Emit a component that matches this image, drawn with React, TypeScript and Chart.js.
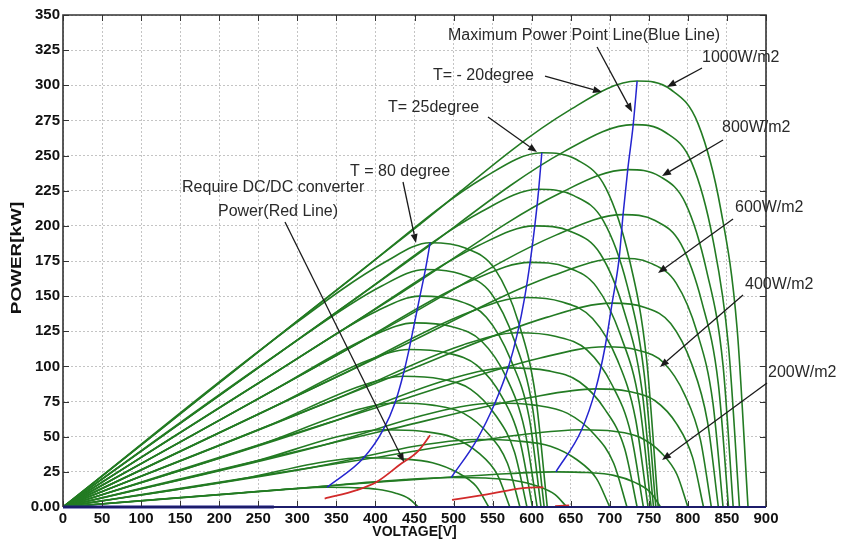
import React, { useEffect, useRef } from 'react';
import { Chart, registerables } from 'chart.js';
Chart.register(...registerables);

type Pt = [number, number];

// Axis ranges / ticks
const X_MIN = 0, X_MAX = 900, X_STEP = 50;
const Y_MIN = 0, Y_MAX = 350, Y_STEP = 25;

const IRRADIANCE = [100, 200, 300, 400, 500, 600, 700, 800, 900, 1000];

// P-V curves at T = -20 degree (index 0 = 100 W/m2 ... index 9 = 1000 W/m2), [V, kW]
const PV_TM20: Pt[][] = [
  [[0,0],[379,16.7],[555,23.3],[631,25],[671,24.5],[705,22.5],[732,17.5],[752,10.5],[765,0]],
  [[0,0],[398,35],[584,51.2],[664,55],[705,53.9],[739,49.5],[766,38.5],[786,23.1],[800,0]],
  [[0,0],[409,54],[600,78.1],[682,84],[723,82.3],[758,75.6],[786,58.8],[806,35.3],[820,0]],
  [[0,0],[416,73.2],[611,106],[694,114],[735,111.7],[769,102.6],[796,79.8],[816,47.9],[830,0]],
  [[0,0],[422,92.8],[619,134.9],[703,145],[744,142.1],[778,130.5],[805,101.5],[825,60.9],[839,0]],
  [[0,0],[427,112.7],[627,164.6],[712,177],[752,173.5],[785,159.3],[812,123.9],[832,74.3],[845,0]],
  [[0,0],[430,132.4],[631,193.4],[717,208],[758,203.8],[791,187.2],[818,145.6],[839,87.4],[852,0]],
  [[0,0],[434,152.8],[636,223.2],[723,240],[764,235.2],[797,216],[824,168],[845,100.8],[858,0]],
  [[0,0],[438,173.4],[642,253],[730,272],[771,266.6],[805,244.8],[832,190.4],[852,114.2],[866,0]],
  [[0,0],[441,194],[647,281.8],[735,303],[778,297],[813,272.7],[842,212],[863,127],[877,0]],
];

// P-V curves at T = 25 degree
const PV_T25: Pt[][] = [
  [[0,0],[298,13.1],[437,19.5],[497,21],[541,20.6],[578,18.9],[608,14.7],[630,8.8],[645,0]],
  [[0,0],[318,28],[466,44.6],[530,48],[581,47],[624,43.2],[658,33.6],[683,20.2],[700,0]],
  [[0,0],[332,43.8],[487,68.8],[553,74],[604,72.5],[646,66.6],[680,51.8],[705,31.1],[722,0]],
  [[0,0],[342,60.2],[502,92.1],[570,99],[620,97],[661,89.1],[694,69.3],[719,41.6],[735,0]],
  [[0,0],[349,76.8],[512,115.3],[582,124],[630,121.5],[671,111.6],[703,86.8],[727,52.1],[743,0]],
  [[0,0],[355,93.7],[520,138.6],[591,149],[638,146],[678,134.1],[710,104.3],[733,62.6],[749,0]],
  [[0,0],[359,110.6],[526,161.8],[598,174],[645,170.5],[683,156.6],[714,121.8],[738,73.1],[753,0]],
  [[0,0],[362,127.4],[532,186],[604,200],[650,196],[688,180],[718,140],[741,84],[756,0]],
  [[0,0],[365,144.5],[536,210.2],[609,226],[654,221.5],[692,203.4],[722,158.2],[744,94.9],[759,0]],
  [[0,0],[368,161.9],[539,234.4],[613,252],[658,247],[695,226.8],[725,176.4],[747,105.8],[762,0]],
];

// P-V curves at T = 80 degree
const PV_T80: Pt[][] = [
  [[0,0],[203,8.9],[297,13],[338,14],[373,13.7],[402,12.6],[426,9.8],[443,5.9],[455,0]],
  [[0,0],[231,20.3],[339,32.6],[385,35],[433,34.3],[473,31.5],[505,24.5],[529,14.7],[545,0]],
  [[0,0],[246,32.5],[361,51.2],[410,55],[459,53.9],[499,49.5],[532,38.5],[556,23.1],[572,0]],
  [[0,0],[255,44.9],[374,68.8],[425,74],[473,72.5],[513,66.6],[545,51.8],[569,31.1],[585,0]],
  [[0,0],[261,57.4],[383,86.5],[435,93],[483,91.1],[522,83.7],[554,65.1],[578,39.1],[594,0]],
  [[0,0],[266,70.2],[390,104.2],[443,112],[490,109.8],[530,100.8],[562,78.4],[585,47],[601,0]],
  [[0,0],[270,83.2],[396,121.8],[450,131],[497,128.4],[536,117.9],[568,91.7],[591,55],[607,0]],
  [[0,0],[274,96.4],[402,139.5],[457,150],[504,147],[542,135],[573,105],[597,63],[612,0]],
  [[0,0],[278,110.1],[408,157.2],[464,169],[510,165.6],[548,152.1],[578,118.3],[601,71],[616,0]],
  [[0,0],[282,124.1],[414,174.8],[470,188],[515,184.2],[553,169.2],[583,131.6],[605,79],[620,0]],
];

// Maximum power point lines (blue)
const MPP_TM20: Pt[] = [[631,25],[664,55],[682,84],[694,114],[703,145],[712,177],[717,208],[723,240],[730,272],[735,303]];
const MPP_T25: Pt[] = [[497,21],[530,48],[553,74],[570,99],[582,124],[591,149],[598,174],[604,200],[609,226],[613,252]];
const MPP_T80: Pt[] = [[338,14],[385,35],[410,55],[425,74],[435,93],[443,112],[450,131],[457,150],[464,169],[470,188]];

// Required DC/DC converter power (red)
const DCDC_1: Pt[] = [[335,6],[376,12],[402,18],[431,30],[455,40],[470,51]];
const DCDC_2: Pt[] = [[498,5],[543,9],[589,13.5],[615,14]];
const DCDC_3: Pt[] = [[630,0.6],[648,1.2]];

// dark line lying on the voltage axis
const ZERO_LINE: Pt[] = [[0,0],[270,0]];

const X_TITLE = 'VOLTAGE[V]';
const Y_TITLE = 'POWER[kW]';

// Annotation texts (data coordinates: V, kW) and arrows
const TEXTS: { t: string; v: number; p: number }[] = [
  { t: 'Maximum Power Point Line(Blue Line)', v: 492.9, p: 335.0 },
  { t: '1000W/m2', v: 818.1, p: 319.4 },
  { t: 'T= - 20degree', v: 473.7, p: 306.6 },
  { t: 'T= 25degree', v: 416.1, p: 283.8 },
  { t: 'T = 80 degree', v: 367.4, p: 238.3 },
  { t: 'Require DC/DC converter', v: 152.4, p: 226.9 },
  { t: 'Power(Red Line)', v: 198.4, p: 209.9 },
  { t: '800W/m2', v: 843.7, p: 269.6 },
  { t: '600W/m2', v: 860.3, p: 212.7 },
  { t: '400W/m2', v: 873.1, p: 157.9 },
  { t: '200W/m2', v: 902.6, p: 95.3 },
];
const ARROWS: [number, number, number, number][] = [
  [683.7, 327.2, 728.5, 281.0],
  [818.1, 312.3, 773.3, 298.8],
  [617.1, 306.6, 690.1, 295.2],
  [544.1, 277.4, 606.8, 252.5],
  [435.3, 231.2, 451.9, 187.8],
  [284.2, 202.7, 436.6, 32.0],
  [845.0, 261.1, 766.9, 235.5],
  [857.8, 204.9, 761.8, 166.5],
  [870.6, 150.8, 764.3, 99.6],
  [901.3, 88.2, 766.9, 33.4],
];

const FONT = '"Liberation Sans", Arial, sans-serif';

const framePlugin = {
  id: 'frameAndNotes',
  afterDraw(chart: any) {
    const { ctx, chartArea: a, scales } = chart;
    const xs = scales.x, ys = scales.y;
    ctx.save();
    // inward tick marks
    ctx.strokeStyle = '#333';
    ctx.lineWidth = 1;
    ctx.beginPath();
    xs.ticks.forEach((t: any) => {
      const px = Math.round(xs.getPixelForValue(t.value)) + 0.5;
      ctx.moveTo(px, a.bottom); ctx.lineTo(px, a.bottom - 6);
      ctx.moveTo(px, a.top); ctx.lineTo(px, a.top + 6);
    });
    ys.ticks.forEach((t: any) => {
      const py = Math.round(ys.getPixelForValue(t.value)) + 0.5;
      ctx.moveTo(a.left, py); ctx.lineTo(a.left + 6, py);
      ctx.moveTo(a.right, py); ctx.lineTo(a.right - 6, py);
    });
    ctx.stroke();
    // frame
    ctx.strokeStyle = '#333';
    ctx.lineWidth = 1.6;
    ctx.beginPath();
    ctx.moveTo(a.left, a.bottom);
    ctx.lineTo(a.left, a.top);
    ctx.lineTo(a.right, a.top);
    ctx.lineTo(a.right, a.bottom);
    ctx.stroke();
    ctx.strokeStyle = '#1c1c6a';
    ctx.lineWidth = 2;
    ctx.beginPath();
    ctx.moveTo(a.left, a.bottom);
    ctx.lineTo(a.right, a.bottom);
    ctx.stroke();

    // arrows
    ctx.strokeStyle = '#1a1a1a';
    ctx.fillStyle = '#1a1a1a';
    ctx.lineWidth = 1.3;
    ARROWS.forEach(([v1, p1, v2, p2]) => {
      const x1 = xs.getPixelForValue(v1), y1 = ys.getPixelForValue(p1);
      const x2 = xs.getPixelForValue(v2), y2 = ys.getPixelForValue(p2);
      const ang = Math.atan2(y2 - y1, x2 - x1);
      const L = 9, W = 3.5;
      const bx = x2 - L * Math.cos(ang), by = y2 - L * Math.sin(ang);
      ctx.beginPath();
      ctx.moveTo(x1, y1); ctx.lineTo(bx, by);
      ctx.stroke();
      ctx.beginPath();
      ctx.moveTo(x2, y2);
      ctx.lineTo(bx + W * Math.sin(ang), by - W * Math.cos(ang));
      ctx.lineTo(bx - W * Math.sin(ang), by + W * Math.cos(ang));
      ctx.closePath();
      ctx.fill();
    });

    // texts
    ctx.fillStyle = '#2a2a2a';
    ctx.font = `16px ${FONT}`;
    ctx.textAlign = 'left';
    ctx.textBaseline = 'middle';
    TEXTS.forEach(({ t, v, p }) => {
      ctx.fillText(t, xs.getPixelForValue(v), ys.getPixelForValue(p));
    });

    // y-axis title (stretched along its length as in the reference)
    ctx.save();
    ctx.translate(17, (a.top + a.bottom) / 2 - 3);
    ctx.rotate(-Math.PI / 2);
    ctx.scale(1.35, 1);
    ctx.fillStyle = '#111';
    ctx.font = `bold 14px ${FONT}`;
    ctx.textAlign = 'center';
    ctx.textBaseline = 'middle';
    ctx.fillText(Y_TITLE, 0, 0);
    ctx.restore();

    ctx.restore();
  },
};

export default function App() {
  const ref = useRef<HTMLCanvasElement>(null);
  useEffect(() => {
    document.body.style.margin = '0';
    const toXY = (pts: Pt[]) => pts.map(([x, y]) => ({ x, y }));
    const mk = (pts: Pt[], color: string, width: number, order: number, extra: any = {}) => ({
      data: toXY(pts),
      borderColor: color,
      backgroundColor: color,
      borderWidth: width,
      showLine: true,
      pointRadius: 0,
      pointHoverRadius: 0,
      cubicInterpolationMode: 'monotone',
      fill: false,
      order,
      ...extra,
    });
    const green = '#237b23';
    const datasets: any[] = [];
    [PV_TM20, PV_T25, PV_T80].forEach((fam) =>
      fam.forEach((c, i) => datasets.push({ label: `${IRRADIANCE[i]}W/m2`, ...mk(c, green, 1.6, 5) }))
    );
    [MPP_TM20, MPP_T25, MPP_T80].forEach((c) => datasets.push(mk(c, '#2525d0', 1.5, 2)));
    [DCDC_1, DCDC_2, DCDC_3].forEach((c) => datasets.push(mk(c, '#d22a2a', 1.8, 1)));
    datasets.push(mk(ZERO_LINE, '#1c1c8a', 3, 0, { clip: 4 }));

    const chart = new Chart(ref.current as HTMLCanvasElement, {
      type: 'scatter',
      data: { datasets },
      options: {
        animation: false,
        responsive: false,
        devicePixelRatio: 1,
        events: [],
        layout: { padding: { top: 15, right: 80, left: 0, bottom: 0 } },
        plugins: { legend: { display: false }, tooltip: { enabled: false } },
        scales: {
          x: {
            type: 'linear',
            min: X_MIN, max: X_MAX,
            afterFit: (s: any) => { s.height = 38; },
            ticks: {
              stepSize: X_STEP, autoSkip: false, maxRotation: 0, padding: 3,
              color: '#111', font: { family: FONT, size: 15, weight: 'bold' },
            },
            grid: { color: '#c4c4c4', lineWidth: 1, drawTicks: false },
            border: { display: false, dash: [2, 2] },
            title: {
              display: true, text: X_TITLE, color: '#111',
              font: { family: FONT, size: 14, weight: 'bold' }, padding: { top: 0, bottom: 4 },
            },
          },
          y: {
            type: 'linear',
            min: Y_MIN, max: Y_MAX,
            afterFit: (s: any) => { s.width = 63; },
            ticks: {
              stepSize: Y_STEP, padding: 3, color: '#111',
              font: { family: FONT, size: 15, weight: 'bold' },
              callback: (v: any) => (Number(v) === 0 ? '0.00' : String(v)),
            },
            grid: { color: '#c4c4c4', lineWidth: 1, drawTicks: false },
            border: { display: false, dash: [2, 2] },
            title: { display: false },
          },
        },
      },
      plugins: [framePlugin],
    } as any);
    return () => chart.destroy();
  }, []);
  return <canvas ref={ref} width={846} height={545} style={{ display: 'block' }} />;
}
